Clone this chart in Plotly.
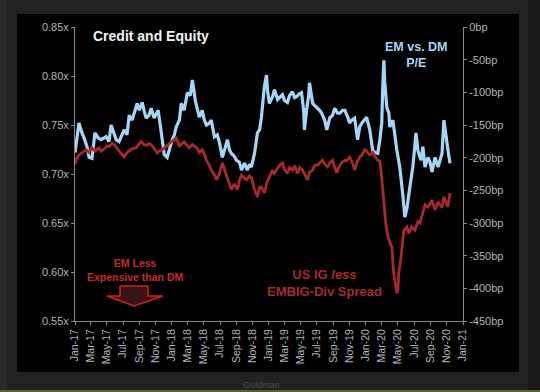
import plotly.graph_objects as go

# ---------------- data ----------------
em_dm_dates = [
    "2017-01-01","2017-01-09","2017-01-16","2017-01-27","2017-02-04","2017-02-15","2017-02-23","2017-03-06",
    "2017-03-17","2017-03-29","2017-04-09","2017-04-28","2017-05-09","2017-05-17","2017-05-28","2017-06-05",
    "2017-06-16","2017-07-05","2017-07-16","2017-07-24","2017-08-04","2017-08-12","2017-08-23","2017-08-31",
    "2017-09-11","2017-09-18","2017-09-26","2017-10-07","2017-10-15","2017-10-26","2017-11-03","2017-11-10",
    "2017-11-18","2017-11-25","2017-12-03","2017-12-14","2017-12-22","2018-01-02","2018-01-10","2018-01-17",
    "2018-01-29","2018-02-05","2018-02-16","2018-02-28","2018-03-11","2018-03-19","2018-03-30","2018-04-07",
    "2018-04-14","2018-04-25","2018-05-03","2018-05-11","2018-05-22","2018-05-29","2018-06-10","2018-06-21",
    "2018-06-29","2018-07-10","2018-07-21","2018-07-29","2018-08-05","2018-08-13","2018-08-24","2018-09-01",
    "2018-09-12","2018-09-20","2018-10-01","2018-10-12","2018-10-20","2018-10-27","2018-11-08","2018-11-19",
    "2018-11-27","2018-12-04","2018-12-15","2018-12-23","2018-12-27","2019-01-03","2019-01-15","2019-01-22",
    "2019-02-03","2019-02-10","2019-02-21","2019-03-01","2019-03-12","2019-03-20","2019-03-31","2019-04-08",
    "2019-04-15","2019-04-27","2019-05-04","2019-05-12","2019-05-15","2019-05-23","2019-05-31","2019-06-03",
    "2019-06-11","2019-06-15","2019-06-22","2019-06-30","2019-07-11","2019-07-19","2019-07-30","2019-08-07",
    "2019-08-18","2019-08-29","2019-09-06","2019-09-17","2019-09-25","2019-10-06","2019-10-14","2019-10-25",
    "2019-11-01","2019-11-09","2019-11-20","2019-12-01","2019-12-09","2019-12-17","2019-12-28","2020-01-04",
    "2020-01-16","2020-01-27","2020-02-04","2020-02-15","2020-02-23","2020-03-01","2020-03-05","2020-03-09",
    "2020-03-12","2020-03-20","2020-03-28","2020-03-31","2020-04-12","2020-04-19","2020-04-27","2020-05-08",
    "2020-05-16","2020-05-20","2020-05-27","2020-06-04","2020-06-15","2020-06-26","2020-07-04","2020-07-08",
    "2020-07-15","2020-07-27","2020-08-03","2020-08-11","2020-08-22","2020-08-30","2020-09-06","2020-09-18",
    "2020-09-29","2020-10-06","2020-10-14","2020-10-21","2020-10-29","2020-11-05","2020-11-13",
]
em_dm_pe = [
    0.722,0.738,0.752,0.742,0.737,0.728,0.717,0.716,
    0.742,0.737,0.735,0.738,0.733,0.750,0.742,0.735,
    0.733,0.745,0.740,0.760,0.755,0.762,0.772,0.765,
    0.773,0.765,0.757,0.760,0.767,0.757,0.762,0.765,
    0.750,0.738,0.720,0.717,0.725,0.735,0.740,0.748,
    0.755,0.772,0.765,0.783,0.780,0.796,0.775,0.765,
    0.758,0.765,0.755,0.750,0.752,0.755,0.738,0.740,
    0.732,0.717,0.728,0.735,0.725,0.721,0.718,0.714,
    0.712,0.704,0.711,0.704,0.710,0.707,0.721,0.742,
    0.745,0.758,0.789,0.801,0.785,0.772,0.779,0.786,
    0.776,0.778,0.781,0.775,0.773,0.780,0.784,0.778,
    0.779,0.782,0.783,0.765,0.745,0.765,0.780,0.793,
    0.775,0.772,0.770,0.768,0.765,0.762,0.755,0.745,
    0.757,0.760,0.767,0.762,0.762,0.765,0.765,0.758,
    0.752,0.755,0.757,0.735,0.748,0.752,0.755,0.758,
    0.745,0.724,0.722,0.721,0.735,0.752,0.790,0.816,
    0.795,0.768,0.762,0.748,0.755,0.740,0.724,0.707,
    0.690,0.677,0.656,0.665,0.687,0.707,0.730,0.742,
    0.724,0.714,0.728,0.707,0.717,0.712,0.702,0.717,
    0.707,0.715,0.721,0.755,0.735,0.725,0.711,
]

spread_dates = [
    "2017-01-01","2017-01-09","2017-01-16","2017-01-27","2017-02-04","2017-02-12","2017-02-23","2017-03-06",
    "2017-03-17","2017-04-02","2017-04-09","2017-04-20","2017-05-02","2017-05-09","2017-05-21","2017-05-28",
    "2017-06-09","2017-06-16","2017-06-27","2017-07-05","2017-07-16","2017-07-24","2017-08-04","2017-08-19",
    "2017-08-31","2017-09-07","2017-09-18","2017-09-30","2017-10-07","2017-10-19","2017-10-26","2017-11-07",
    "2017-11-14","2017-11-25","2017-12-03","2017-12-14","2017-12-22","2018-01-02","2018-01-10","2018-01-17",
    "2018-01-29","2018-02-09","2018-02-16","2018-02-28","2018-03-07","2018-03-19","2018-03-26","2018-04-07",
    "2018-04-14","2018-04-25","2018-05-03","2018-05-11","2018-05-22","2018-05-29","2018-06-10","2018-06-17",
    "2018-06-29","2018-07-10","2018-07-21","2018-07-29","2018-08-05","2018-08-13","2018-08-24","2018-09-05",
    "2018-09-12","2018-09-20","2018-10-01","2018-10-09","2018-10-20","2018-10-27","2018-11-08","2018-11-19",
    "2018-11-27","2018-12-04","2018-12-15","2018-12-27","2019-01-03","2019-01-15","2019-01-22","2019-02-03",
    "2019-02-10","2019-02-21","2019-03-01","2019-03-12","2019-03-20","2019-03-31","2019-04-08","2019-04-19",
    "2019-04-27","2019-05-08","2019-05-15","2019-05-27","2019-06-03","2019-06-15","2019-06-22","2019-07-04",
    "2019-07-11","2019-07-22","2019-07-30","2019-08-10","2019-08-18","2019-08-29","2019-09-06","2019-09-13",
    "2019-09-25","2019-10-02","2019-10-14","2019-10-21","2019-11-01","2019-11-09","2019-11-20","2019-11-28",
    "2019-12-09","2019-12-17","2019-12-28","2020-01-04","2020-01-16","2020-01-27","2020-02-04","2020-02-15",
    "2020-02-23","2020-02-26","2020-03-05","2020-03-12","2020-03-16","2020-03-24","2020-03-31","2020-04-08",
    "2020-04-15","2020-04-23","2020-04-27","2020-05-01","2020-05-04","2020-05-12","2020-05-16","2020-05-23",
    "2020-06-04","2020-06-11","2020-06-22","2020-07-04","2020-07-15","2020-07-23","2020-07-30","2020-08-11",
    "2020-08-22","2020-08-30","2020-09-06","2020-09-18","2020-09-29","2020-10-06","2020-10-14","2020-10-21",
    "2020-10-29","2020-11-05","2020-11-13",
]
spread_bp = [
    -210,-200,-196,-192,-190,-188,-192,-185,
    -190,-185,-190,-187,-182,-183,-178,-180,
    -186,-188,-195,-199,-192,-190,-186,-185,
    -178,-175,-180,-181,-178,-182,-186,-193,
    -190,-188,-185,-182,-178,-175,-173,-170,
    -182,-178,-176,-182,-185,-180,-182,-186,
    -192,-188,-195,-204,-212,-219,-226,-234,
    -224,-208,-222,-230,-240,-249,-240,-249,
    -235,-227,-232,-234,-228,-230,-249,-260,
    -245,-245,-254,-235,-230,-219,-224,-216,
    -212,-208,-218,-224,-215,-219,-212,-224,
    -215,-219,-225,-234,-222,-219,-212,-211,
    -208,-204,-210,-214,-208,-204,-215,-223,
    -212,-208,-204,-205,-199,-205,-219,-208,
    -199,-196,-188,-190,-196,-192,-198,-204,
    -206,-214,-249,-285,-300,-321,-330,-337,
    -377,-400,-408,-400,-377,-355,-341,-311,
    -306,-316,-306,-311,-298,-300,-290,-272,
    -276,-270,-265,-280,-268,-272,-276,-260,
    -268,-275,-254,
]

left_ticks = [0.55, 0.60, 0.65, 0.70, 0.75, 0.80, 0.85]
left_labels = ["0.55x", "0.60x", "0.65x", "0.70x", "0.75x", "0.80x", "0.85x"]
right_ticks = [0, -50, -100, -150, -200, -250, -300, -350, -400, -450]
right_labels = ["0bp", "-50bp", "-100bp", "-150bp", "-200bp", "-250bp", "-300bp", "-350bp", "-400bp", "-450bp"]

# ---------------- styles ----------------
BLUE = "#a3d6f7"
RED = "#a8292b"
TXT_RED = "#c62a2a"
AX = "#8a8a8a"
LBL = "#b4b4b4"
FONT = "Arial, Liberation Sans, sans-serif"

fig = go.Figure()
fig.add_trace(go.Scatter(x=em_dm_dates, y=em_dm_pe, mode="lines",
                         line=dict(color=BLUE, width=3.2), yaxis="y", showlegend=False))
fig.add_trace(go.Scatter(x=spread_dates, y=spread_bp, mode="lines",
                         line=dict(color=RED, width=2.8), yaxis="y2", showlegend=False))

axis_common = dict(showgrid=False, zeroline=False, showline=True, linecolor=AX, linewidth=1,
                   ticks="outside", ticklen=3, tickcolor=AX,
                   tickfont=dict(family=FONT, size=11, color=LBL))

fig.update_layout(
    width=540, height=392,
    margin=dict(l=75, r=77, t=27, b=71),
    paper_bgcolor="#222222",
    plot_bgcolor="#000000",
    font=dict(family=FONT),
    xaxis=dict(type="date", range=["2017-01-01", "2021-01-01"], tick0="2017-01-01", dtick="M2",
               tickformat="%b-%y", tickangle=-90, automargin=False,
               **{**axis_common, "tickfont": dict(family=FONT, size=10.5, color=LBL)}),
    yaxis=dict(range=[0.55, 0.85], tickvals=left_ticks, ticktext=left_labels, automargin=False,
               **axis_common),
    yaxis2=dict(range=[-450, 0], tickvals=right_ticks, ticktext=right_labels, overlaying="y",
                side="right", automargin=False, **axis_common),
    shapes=[
        # outer frame strips
        dict(type="rect", xref="paper", yref="paper", x0=1.1675, x1=1.20, y0=-0.25, y1=1.10,
             fillcolor="#1a1a1a", line=dict(width=0), layer="below"),
        dict(type="rect", xref="paper", yref="paper", x0=-0.20, x1=-0.1753, y0=-0.25, y1=1.10,
             fillcolor="#2a2a2a", line=dict(width=0), layer="below"),
        dict(type="rect", xref="paper", yref="paper", x0=-0.20, x1=1.20, y0=-0.25, y1=-0.2347,
             fillcolor="#55652a", line=dict(width=0), layer="below"),
        # black panel
        dict(type="rect", xref="paper", yref="paper", x0=-0.1495, x1=1.144, y0=-0.173, y1=1.044,
             fillcolor="#000000", line=dict(width=0), layer="below"),
        # arrow
        dict(type="path", xref="paper", yref="paper",
             path="M 0.1160 0.1190 L 0.1881 0.1190 L 0.1881 0.0850 L 0.2268 0.0850 L 0.1521 0.0510 "
                  "L 0.0825 0.0850 L 0.1160 0.0850 Z",
             fillcolor="#3a1414", line=dict(color="#d02020", width=1.5), layer="above"),
    ],
    annotations=[
        dict(text="<b>Credit and Equity</b>", xref="paper", yref="paper", x=0.042, y=0.969,
             xanchor="left", yanchor="middle", showarrow=False,
             font=dict(family=FONT, size=14, color="#f2f2f2")),
        dict(text="<b>EM vs. DM<br>P/E</b>", xref="paper", yref="paper", x=0.879, y=0.906,
             xanchor="center", yanchor="middle", showarrow=False,
             font=dict(family=FONT, size=12.5, color=BLUE)),
        dict(text="<b>US IG <i>less</i><br>EMBIG-Div Spread</b>", xref="paper", yref="paper",
             x=0.644, y=0.130, xanchor="center", yanchor="middle", showarrow=False,
             font=dict(family=FONT, size=13, color=RED)),
        dict(text="<b>EM Less<br>Expensive than DM</b>", xref="paper", yref="paper",
             x=0.157, y=0.172, xanchor="center", yanchor="middle", showarrow=False,
             font=dict(family=FONT, size=10.5, color=TXT_RED)),
        dict(text="Goldman", xref="paper", yref="paper", x=0.48, y=-0.218,
             xanchor="center", yanchor="middle", showarrow=False,
             font=dict(family=FONT, size=9, color="#4a4a4a")),
    ],
)

fig.write_html("out.html", post_script="document.body.style.margin='0';",
               config={"displayModeBar": False})
